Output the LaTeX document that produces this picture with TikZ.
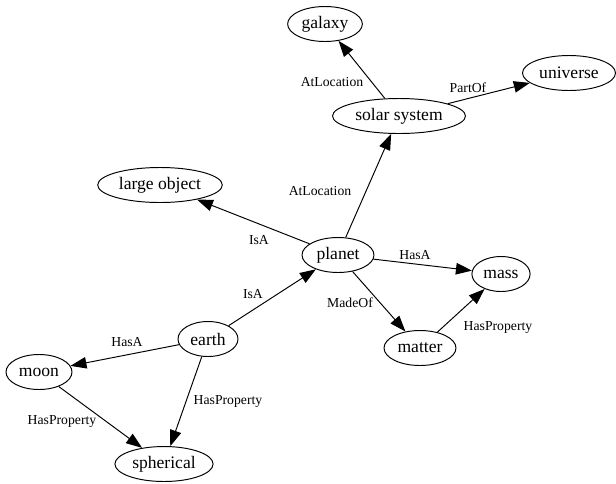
\documentclass[tikz,border=0pt]{standalone}
\usepackage{fontspec}
\setmainfont{Liberation Serif}
\usepackage{tikz}
\usetikzlibrary{arrows.meta,shapes.geometric}

\begin{document}
\begin{tikzpicture}[
        concept/.style={ellipse, draw=black, line width=0.55pt, inner sep=0.06cm, minimum height=0.7cm, font=\fontsize{10}{12}\selectfont},
        rel/.style={line width=0.55pt, -{Triangle[length=0.32cm, width=0.23cm]}},
        lbl/.style={inner sep=0pt, font=\fontsize{7.8}{9}\selectfont}
    ]
    \useasboundingbox (0,0) rectangle (12.32,-9.66);

    % Define nodes
    \node[concept, minimum width=1.48cm] (galaxy) at (6.50, -0.48) {galaxy};
    \node[concept, minimum width=1.86cm] (universe) at (11.38, -1.46) {universe};
    \node[concept, minimum width=2.66cm] (solar) at (7.98, -2.32) {solar system};
    \node[concept, minimum width=2.34cm] (large) at (3.20, -3.70) {large object};
    \node[concept, minimum width=1.44cm] (planet) at (6.76, -5.10) {planet};
    \node[concept, minimum width=1.16cm] (mass) at (10.02, -5.48) {mass};
    \node[concept, minimum width=1.26cm] (matter) at (8.40, -6.96) {matter};
    \node[concept, minimum width=1.20cm] (earth) at (4.16, -6.78) {earth};
    \node[concept, minimum width=1.32cm] (moon) at (0.78, -7.44) {moon};
    \node[concept, minimum width=1.96cm] (spherical) at (3.28, -9.28) {spherical};

    % Relations between the concepts
    \draw[rel] (solar) -- (galaxy);
    \draw[rel] (solar) -- (universe);
    \draw[rel] (planet) -- (solar);
    \draw[rel] (planet) -- (large);
    \draw[rel] (planet) -- (mass);
    \draw[rel] (planet) -- (matter);
    \draw[rel] (matter) -- (mass);
    \draw[rel] (earth) -- (planet);
    \draw[rel] (earth) -- (moon);
    \draw[rel] (earth) -- (spherical);
    \draw[rel] (moon) -- (spherical);

    % Relation names
    \node[lbl] (l1) at (6.64, -1.64) {AtLocation};
    \node[lbl] (l2) at (9.36, -1.76) {PartOf};
    \node[lbl] (l3) at (6.40, -3.82) {AtLocation};
    \node[lbl] (l4) at (5.18, -4.80) {IsA};
    \node[lbl] (l5) at (8.30, -5.10) {HasA};
    \node[lbl] (l6) at (7.00, -6.06) {MadeOf};
    \node[lbl] (l7) at (9.96, -6.54) {HasProperty};
    \node[lbl] (l8) at (5.06, -5.88) {IsA};
    \node[lbl] (l9) at (2.54, -6.84) {HasA};
    \node[lbl] (l10) at (4.56, -8.02) {HasProperty};
    \node[lbl] (l11) at (1.24, -8.42) {HasProperty};

\end{tikzpicture}
\end{document}
